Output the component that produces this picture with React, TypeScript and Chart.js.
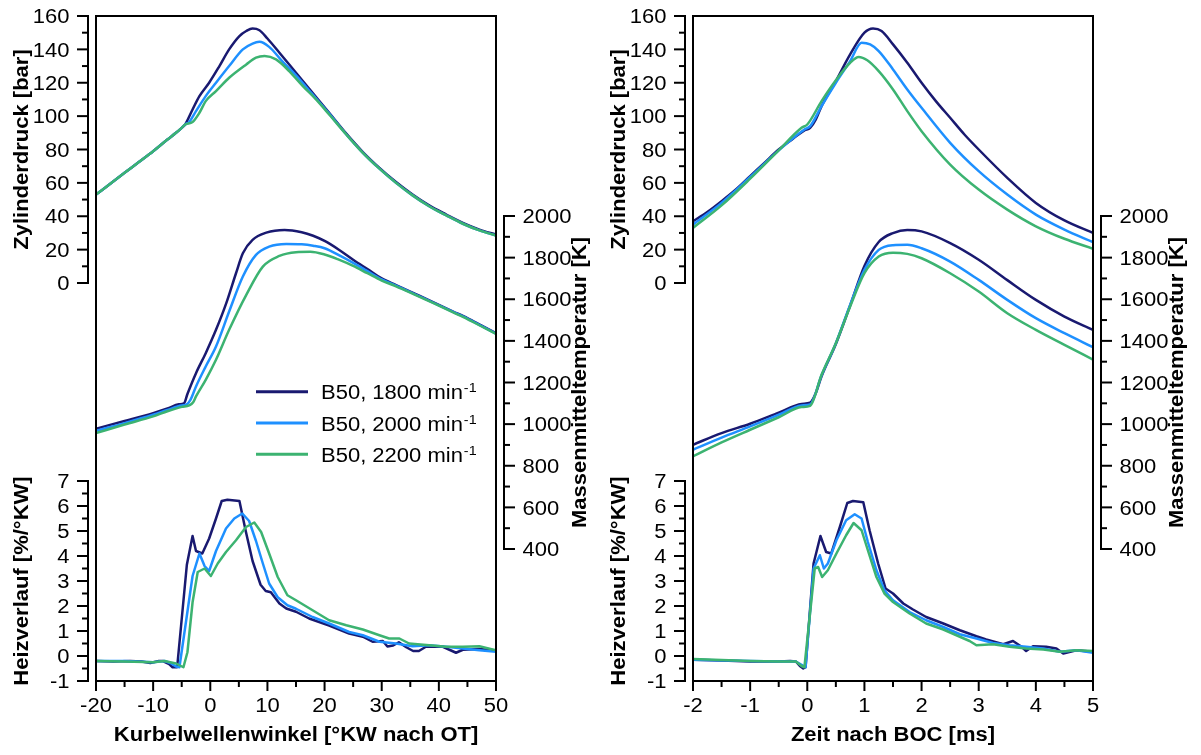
import React, { useEffect, useRef } from 'react';
import { Chart, registerables } from 'chart.js';

Chart.register(...registerables);

type Pt = [number, number];

// ---------- legend / series ----------
const SPEED_LABELS = ['B50, 1800 min', 'B50, 2000 min', 'B50, 2200 min'];
const SPEED_SUPERSCRIPT = '-1';
const SPEED_COLORS = ['#191970', '#1e90ff', '#3cb371'];

// ---------- tick labels ----------
const crankAngleTicks = [-20, -10, 0, 10, 20, 30, 40, 50];
const timeTicks = [-2, -1, 0, 1, 2, 3, 4, 5];
const pressureTicks = [0, 20, 40, 60, 80, 100, 120, 140, 160];
const temperatureTicks = [400, 600, 800, 1000, 1200, 1400, 1600, 1800, 2000];
const heatTicks = [-1, 0, 1, 2, 3, 4, 5, 6, 7];

// ---------- left panel: crank angle [°KW nach OT] ----------
const pressureAngle1800: Pt[] = [
  [-20, 53], [-17.5, 59.5], [-15, 66], [-12.5, 72.5], [-10, 79], [-7.5, 86], [-6, 90], [-5, 93], [-4.4, 95],
  [-3.1, 104], [-1.9, 112], [-0.2, 120], [1.6, 130], [3.3, 140], [5.1, 148], [6.3, 151], [7.4, 152.5],
  [8.6, 151.5], [10, 146.5], [12.1, 138], [15, 126], [17.9, 114], [20.8, 102], [23.8, 89.5], [26.7, 78.5],
  [29.6, 69], [32.5, 60.5], [35.4, 53], [38.3, 46.5], [41.3, 41], [44.2, 36], [47.1, 32], [50, 29],
];
const pressureAngle2000: Pt[] = [
  [-20, 53], [-17.5, 59.5], [-15, 66], [-12.5, 72.5], [-10, 79], [-7.5, 86], [-6, 90], [-5, 93], [-4.4, 95],
  [-3.7, 96.5], [-2.5, 103], [-0.8, 112], [1, 120], [3.3, 130], [5.7, 140], [7.4, 143.5], [8.6, 144.5],
  [10.3, 141.5], [12.7, 132.5], [15, 124.5], [17.9, 113], [20.8, 101.5], [23.8, 89], [26.7, 78],
  [29.6, 68.5], [32.5, 60], [35.4, 52.5], [38.3, 46], [41.3, 40.5], [44.2, 35.5], [47.1, 31.5], [50, 28.5],
];
const pressureAngle2200: Pt[] = [
  [-20, 53], [-17.5, 59.5], [-15, 66], [-12.5, 72.5], [-10, 79], [-7.5, 86], [-6, 90], [-5, 93], [-4.4, 95],
  [-3.1, 96.5], [-1.9, 102], [-0.8, 109], [1, 115], [3.3, 123], [6.3, 131], [8, 135], [9.5, 136],
  [11.5, 134], [13.8, 127], [16.2, 118], [18.5, 110], [20.8, 101], [23.8, 89], [26.7, 78],
  [29.6, 68.5], [32.5, 60], [35.4, 52.5], [38.3, 46], [41.3, 40.5], [44.2, 35.5], [47.1, 31.5], [50, 28.5],
];

const temperatureAngle1800: Pt[] = [
  [-20, 978], [-15, 1015], [-10, 1053], [-7.5, 1075], [-5.5, 1095], [-4.6, 1100], [-4, 1145], [-2.5, 1245],
  [-0.8, 1341], [1, 1453], [2.8, 1581], [4.5, 1725], [5.7, 1821], [7.4, 1885], [9.8, 1920], [13, 1933],
  [16, 1922], [18, 1905], [20, 1880], [22.5, 1838], [25, 1790], [27.5, 1745], [30, 1700], [32.5, 1668],
  [35, 1637], [37.5, 1605], [40, 1573], [42.5, 1541], [45, 1509], [47.5, 1473], [50, 1437],
];
const temperatureAngle2000: Pt[] = [
  [-20, 968], [-15, 1005], [-10, 1045], [-7.5, 1068], [-5, 1090], [-4.2, 1093], [-3.5, 1115], [-2.5, 1181],
  [-0.8, 1277], [1, 1373], [3.3, 1541], [5.7, 1709], [8, 1813], [10.3, 1853], [13.3, 1866], [16, 1864],
  [18, 1857], [20, 1845], [22.5, 1812], [25, 1775], [27.5, 1735], [30, 1695], [32.5, 1665], [35, 1634],
  [37.5, 1603], [40, 1571], [42.5, 1539], [45, 1507], [47.5, 1471], [50, 1435],
];
const temperatureAngle2200: Pt[] = [
  [-20, 957], [-15, 998], [-10, 1037], [-7.5, 1062], [-5, 1083], [-3.7, 1090], [-3, 1105], [-2.5, 1133],
  [-0.8, 1213], [1, 1309], [3.3, 1453], [6.3, 1621], [9.2, 1757], [12.1, 1808], [15, 1826], [17.5, 1828],
  [20, 1815], [22.5, 1790], [25, 1760], [27.5, 1725], [30, 1690], [32.5, 1662], [35, 1632], [37.5, 1601],
  [40, 1569], [42.5, 1537], [45, 1505], [47.5, 1469], [50, 1433],
];

const heatAngle1800: Pt[] = [
  [-20, -0.2], [-17, -0.22], [-14, -0.2], [-12, -0.22], [-10.5, -0.28], [-9, -0.2], [-8.3, -0.2], [-7.2, -0.32],
  [-6.6, -0.45], [-5.8, -0.45], [-4.1, 3.65], [-3.1, 4.8], [-2.5, 4.2], [-1.4, 4.1], [-0.2, 4.7], [1, 5.5],
  [2, 6.2], [3, 6.25], [5.1, 6.2], [6.2, 5.0], [7.4, 3.8], [8.8, 2.85], [9.7, 2.6], [10.6, 2.55], [12.1, 2.1],
  [13.3, 1.9], [15, 1.77], [17.3, 1.5], [20.8, 1.22], [24.3, 0.9], [26.7, 0.77], [28.4, 0.57], [30.2, 0.6],
  [31, 0.38], [32, 0.42], [33, 0.55], [34.3, 0.35], [35.5, 0.2], [36.5, 0.2], [37.8, 0.38], [40.7, 0.37],
  [43, 0.13], [44.2, 0.25], [47.1, 0.28], [50, 0.22],
];
const heatAngle2000: Pt[] = [
  [-20, -0.2], [-15, -0.2], [-10, -0.25], [-8, -0.2], [-7, -0.28], [-6, -0.42], [-5.4, -0.45], [-3.1, 3.2],
  [-1.9, 4.1], [-1, 3.6], [-0.2, 3.4], [1, 4.2], [2.75, 5.1], [4.2, 5.5], [5.6, 5.7], [6.8, 5.4], [8, 4.6],
  [9.2, 3.7], [10.3, 2.9], [11.8, 2.35], [13.5, 2.03], [15, 1.89], [17.9, 1.56], [20.8, 1.3], [24.3, 0.96],
  [26.7, 0.83], [29.6, 0.57], [32.5, 0.5], [35.4, 0.39], [38.3, 0.43], [41.3, 0.37], [44.2, 0.3], [47.1, 0.23],
  [50, 0.17],
];
const heatAngle2200: Pt[] = [
  [-20, -0.2], [-15, -0.22], [-10, -0.25], [-8, -0.2], [-6, -0.3], [-4.7, -0.45], [-4, 0.15], [-3.1, 2.15],
  [-2.2, 3.36], [-1, 3.5], [0.1, 3.2], [1.3, 3.7], [2.75, 4.16], [4.5, 4.63], [6.25, 5.16], [7.7, 5.34],
  [8.9, 4.96], [10.3, 4.1], [11.8, 3.16], [13.5, 2.43], [15, 2.23], [17.9, 1.83], [20.8, 1.43], [23.8, 1.23],
  [26.7, 1.06], [29.6, 0.83], [31.3, 0.7], [33.1, 0.7], [34.8, 0.5], [38.3, 0.43], [41.3, 0.37], [44.2, 0.37],
  [47.1, 0.39], [50, 0.23],
];

// ---------- right panel: time after BOC [ms] ----------
const pressureTime1800: Pt[] = [
  [-2, 37], [-1.75, 42.5], [-1.5, 49], [-1.25, 56], [-1, 64], [-0.75, 72], [-0.5, 80], [-0.25, 86.5],
  [-0.05, 91.5], [0.05, 93], [0.15, 98], [0.25, 106], [0.5, 121], [0.75, 137], [1, 150], [1.15, 152.5],
  [1.3, 151], [1.5, 143], [1.75, 132], [2, 120], [2.25, 109], [2.5, 99], [2.75, 89], [3, 80], [3.5, 63],
  [4, 48], [4.5, 37.5], [5, 30],
];
const pressureTime2000: Pt[] = [
  [-2, 35], [-1.5, 48], [-1, 63.5], [-0.5, 79.5], [-0.05, 92], [0.05, 94], [0.25, 106], [0.5, 120],
  [0.75, 133], [0.95, 144], [1.1, 143], [1.25, 139], [1.5, 128], [1.75, 116], [2, 105], [2.5, 84], [3, 67],
  [3.5, 53], [4, 41], [4.5, 32], [5, 24.5],
];
const pressureTime2200: Pt[] = [
  [-2, 33], [-1.5, 46.5], [-1, 62.5], [-0.5, 79.5], [-0.1, 93], [0, 95], [0.25, 109], [0.5, 121.5],
  [0.75, 132], [0.9, 135.5], [1.05, 133.5], [1.25, 127], [1.5, 116], [1.75, 103], [2, 91], [2.5, 71],
  [3, 56], [3.5, 44], [4, 34], [4.5, 26.5], [5, 20.5],
];

const temperatureTime1800: Pt[] = [
  [-2, 901], [-1.5, 957], [-1, 1002], [-0.5, 1055], [-0.1, 1097], [0.05, 1103], [0.15, 1150], [0.25, 1230],
  [0.5, 1385], [0.75, 1570], [1, 1760], [1.25, 1875], [1.5, 1918], [1.75, 1933], [2, 1926], [2.5, 1870],
  [3, 1790], [3.5, 1692], [4, 1597], [4.5, 1517], [5, 1453],
];
const temperatureTime2000: Pt[] = [
  [-2, 877], [-1.5, 935], [-1, 989], [-0.5, 1045], [-0.1, 1090], [0.05, 1095], [0.25, 1235], [0.5, 1389],
  [0.75, 1573], [1, 1741], [1.25, 1837], [1.5, 1860], [1.75, 1862], [2, 1845], [2.5, 1781], [3, 1693],
  [3.5, 1597], [4, 1509], [4.5, 1437], [5, 1370],
];
const temperatureTime2200: Pt[] = [
  [-2, 845], [-1.5, 912], [-1, 973], [-0.5, 1033], [-0.1, 1082], [0.05, 1088], [0.25, 1237], [0.5, 1389],
  [0.75, 1565], [1, 1725], [1.25, 1805], [1.5, 1824], [1.75, 1818], [2, 1797], [2.5, 1725], [3, 1637],
  [3.5, 1533], [4, 1453], [4.5, 1381], [5, 1310],
];

const heatTime1800: Pt[] = [
  [-2, -0.15], [-1.5, -0.18], [-1, -0.22], [-0.75, -0.22], [-0.5, -0.22], [-0.3, -0.2], [-0.2, -0.22],
  [-0.13, -0.4], [-0.07, -0.5], [-0.03, -0.45], [0.11, 3.7], [0.23, 4.8], [0.33, 4.16], [0.42, 4.1],
  [0.57, 5.16], [0.7, 6.12], [0.8, 6.2], [0.98, 6.15], [1.09, 5.03], [1.24, 3.7], [1.37, 2.7], [1.5, 2.5],
  [1.68, 2.1], [1.85, 1.86], [2.08, 1.56], [2.38, 1.3], [2.67, 1.03], [2.96, 0.79], [3.13, 0.66],
  [3.43, 0.47], [3.6, 0.6], [3.75, 0.37], [3.83, 0.2], [3.95, 0.39], [4.18, 0.37], [4.36, 0.3], [4.48, 0.1],
  [4.71, 0.23], [5, 0.17],
];
const heatTime2000: Pt[] = [
  [-2, -0.15], [-1, -0.2], [-0.5, -0.22], [-0.2, -0.22], [-0.1, -0.35], [-0.03, -0.45], [0.11, 3.5],
  [0.22, 4.03], [0.29, 3.5], [0.36, 3.7], [0.51, 4.63], [0.68, 5.43], [0.83, 5.67], [0.95, 5.5],
  [1.06, 4.56], [1.21, 3.43], [1.35, 2.63], [1.5, 2.23], [1.79, 1.76], [2.08, 1.43], [2.38, 1.16],
  [2.67, 0.87], [2.96, 0.7], [3.25, 0.52], [3.54, 0.43], [3.83, 0.37], [4.13, 0.3], [4.42, 0.17],
  [4.71, 0.23], [5, 0.13],
];
const heatTime2200: Pt[] = [
  [-2, -0.12], [-1, -0.2], [-0.5, -0.22], [-0.2, -0.22], [-0.1, -0.4], [-0.05, -0.45], [0.13, 3.5],
  [0.19, 3.56], [0.26, 3.16], [0.36, 3.43], [0.51, 4.1], [0.68, 4.83], [0.81, 5.32], [0.95, 5.03],
  [1.06, 4.23], [1.21, 3.16], [1.35, 2.5], [1.5, 2.16], [1.79, 1.7], [2.08, 1.3], [2.38, 1.06], [2.67, 0.77],
  [2.84, 0.6], [2.96, 0.43], [3.25, 0.47], [3.54, 0.37], [3.83, 0.3], [4.13, 0.26], [4.42, 0.17],
  [4.71, 0.23], [5, 0.2],
];

// ---------- layout ----------
const PAGE_W = 1201;
const PAGE_H = 755;
const PAD_TOP = 16;
const PAD_BOTTOM = 74;
const PLOT_H = PAGE_H - PAD_TOP - PAD_BOTTOM; // 665
// vertical bands (fractions of plot height, from the top) occupied by each y axis
const BAND_PRESSURE: [number, number] = [0, 267 / PLOT_H];
const BAND_TEMPERATURE: [number, number] = [200 / PLOT_H, 533 / PLOT_H];
const BAND_HEAT: [number, number] = [465 / PLOT_H, 1];

const FONT = '"Liberation Sans", Arial, Helvetica, sans-serif';
const STRETCH = 1.1;

function bandRange(ticks: number[], band: [number, number]) {
  const lo = ticks[0];
  const hi = ticks[ticks.length - 1];
  const k = (hi - lo) / (band[1] - band[0]);
  return { min: lo - (1 - band[1]) * k, max: hi + band[0] * k };
}

function drawText(
  ctx: CanvasRenderingContext2D, text: string, x: number, y: number,
  align: CanvasTextAlign, font: string, rotate = false,
) {
  ctx.save();
  ctx.translate(x, y);
  if (rotate) ctx.rotate(-Math.PI / 2);
  ctx.scale(STRETCH, 1);
  ctx.font = font;
  ctx.textAlign = align;
  ctx.textBaseline = 'alphabetic';
  ctx.fillText(text, 0, 0);
  ctx.restore();
}

function line(ctx: CanvasRenderingContext2D, x1: number, y1: number, x2: number, y2: number) {
  ctx.beginPath();
  ctx.moveTo(x1, y1);
  ctx.lineTo(x2, y2);
  ctx.stroke();
}

function drawVAxis(
  ctx: CanvasRenderingContext2D, scale: any, ticks: number[], x: number, side: number,
  title: string, titleOffset: number,
) {
  const yTop = scale.getPixelForValue(ticks[ticks.length - 1]);
  const yBot = scale.getPixelForValue(ticks[0]);
  line(ctx, x, yTop - 1, x, yBot + 1);
  ticks.forEach((v, i) => {
    const y = scale.getPixelForValue(v);
    line(ctx, x, y, x + side * 11, y);
    drawText(ctx, String(v), x + side * 18.5, y + 7.2, side < 0 ? 'right' : 'left', `20px ${FONT}`);
    if (i < ticks.length - 1) {
      const ym = scale.getPixelForValue((v + ticks[i + 1]) / 2);
      line(ctx, x, ym, x + side * 6, ym);
    }
  });
  drawText(ctx, title, x + side * titleOffset, (yTop + yBot) / 2, 'center', `bold 20px ${FONT}`, true);
}

interface PanelSpec {
  xTicks: number[];
  xTitle: string;
  pressure: Pt[][];
  temperature: Pt[][];
  heat: Pt[][];
  legend: boolean;
}

const leftSpec: PanelSpec = {
  xTicks: crankAngleTicks,
  xTitle: 'Kurbelwellenwinkel [°KW nach OT]',
  pressure: [pressureAngle1800, pressureAngle2000, pressureAngle2200],
  temperature: [temperatureAngle1800, temperatureAngle2000, temperatureAngle2200],
  heat: [heatAngle1800, heatAngle2000, heatAngle2200],
  legend: true,
};

const rightSpec: PanelSpec = {
  xTicks: timeTicks,
  xTitle: 'Zeit nach BOC [ms]',
  pressure: [pressureTime1800, pressureTime2000, pressureTime2200],
  temperature: [temperatureTime1800, temperatureTime2000, temperatureTime2200],
  heat: [heatTime1800, heatTime2000, heatTime2200],
  legend: false,
};

function Panel({ spec, left, width, padLeft, padRight }: {
  spec: PanelSpec; left: number; width: number; padLeft: number; padRight: number;
}) {
  const ref = useRef<HTMLCanvasElement>(null);

  useEffect(() => {
    const canvas = ref.current;
    if (!canvas) return;

    const datasets: any[] = [];
    const groups: [string, Pt[][], boolean][] = [
      ['yH', spec.heat, false],
      ['yT', spec.temperature, true],
      ['yP', spec.pressure, true],
    ];
    groups.forEach(([axisId, series, smooth]) => {
      series.forEach((pts, i) => {
        datasets.push({
          label: SPEED_LABELS[i],
          data: pts.map(([x, y]) => ({ x, y })),
          xAxisID: 'x',
          yAxisID: axisId,
          borderColor: SPEED_COLORS[i],
          backgroundColor: SPEED_COLORS[i],
          borderWidth: 2.5,
          pointRadius: 0,
          fill: false,
          tension: 0,
          cubicInterpolationMode: smooth ? 'monotone' : 'default',
          borderJoinStyle: 'round',
          order: 2 - i,
        });
      });
    });

    const pR = bandRange(pressureTicks, BAND_PRESSURE);
    const tR = bandRange(temperatureTicks, BAND_TEMPERATURE);
    const hR = bandRange(heatTicks, BAND_HEAT);

    const axesPlugin = {
      id: 'engineAxes',
      afterDraw(chart: any) {
        const ctx: CanvasRenderingContext2D = chart.ctx;
        const a = chart.chartArea;
        const sx = chart.scales.x;
        ctx.save();
        ctx.strokeStyle = '#000';
        ctx.fillStyle = '#000';
        ctx.lineWidth = 2;
        ctx.lineCap = 'butt';
        ctx.strokeRect(a.left, a.top, a.right - a.left, a.bottom - a.top);

        // x axis
        const xt = spec.xTicks;
        xt.forEach((v, i) => {
          const px = sx.getPixelForValue(v);
          line(ctx, px, a.bottom, px, a.bottom + 10);
          drawText(ctx, String(v), px, a.bottom + 31.3, 'center', `20px ${FONT}`);
          if (i < xt.length - 1) {
            const pm = sx.getPixelForValue((v + xt[i + 1]) / 2);
            line(ctx, pm, a.bottom, pm, a.bottom + 6);
          }
        });
        drawText(ctx, spec.xTitle, (a.left + a.right) / 2, a.bottom + 60.3, 'center', `bold 20px ${FONT}`);

        // y axes
        drawVAxis(ctx, chart.scales.yP, pressureTicks, a.left - 8, -1, 'Zylinderdruck [bar]', 60.5);
        drawVAxis(ctx, chart.scales.yH, heatTicks, a.left - 8, -1, 'Heizverlauf [%/°KW]', 60.5);
        drawVAxis(ctx, chart.scales.yT, temperatureTicks, a.right + 8, 1, 'Massenmitteltemperatur [K]', 81.5);

        // legend
        if (spec.legend) {
          SPEED_LABELS.forEach((lab, i) => {
            const rowY = a.top + 375.7 + i * 31.3;
            ctx.strokeStyle = SPEED_COLORS[i];
            ctx.lineWidth = 3;
            line(ctx, a.left + 160, rowY, a.left + 212, rowY);
            const tx = a.left + 225;
            drawText(ctx, lab, tx, rowY + 7.5, 'left', `20px ${FONT}`);
            ctx.font = `20px ${FONT}`;
            const w = ctx.measureText(lab).width * STRETCH;
            drawText(ctx, SPEED_SUPERSCRIPT, tx + w + 1, rowY + 0.5, 'left', `13px ${FONT}`);
          });
        }
        ctx.restore();
      },
    };

    const chart = new Chart(canvas, {
      type: 'line',
      data: { datasets },
      options: {
        responsive: false,
        animation: false,
        events: [],
        layout: { padding: { left: padLeft, right: padRight, top: PAD_TOP, bottom: PAD_BOTTOM } },
        plugins: { legend: { display: false }, tooltip: { enabled: false }, title: { display: false } },
        scales: {
          x: {
            type: 'linear', display: false,
            min: spec.xTicks[0], max: spec.xTicks[spec.xTicks.length - 1],
          },
          yP: { type: 'linear', display: false, min: pR.min, max: pR.max },
          yT: { type: 'linear', display: false, min: tR.min, max: tR.max },
          yH: { type: 'linear', display: false, min: hR.min, max: hR.max },
        },
      } as any,
      plugins: [axesPlugin],
    });

    return () => chart.destroy();
  }, [spec, padLeft, padRight]);

  return (
    <canvas
      ref={ref}
      width={width}
      height={PAGE_H}
      style={{ position: 'absolute', left, top: 0, width, height: PAGE_H }}
    />
  );
}

export default function App() {
  return (
    <div
      style={{
        position: 'absolute', left: 0, top: 0, width: PAGE_W, height: PAGE_H,
        background: '#ffffff', overflow: 'hidden',
      }}
    >
      <Panel spec={leftSpec} left={0} width={600} padLeft={96} padRight={104} />
      <Panel spec={rightSpec} left={600} width={601} padLeft={93} padRight={108} />
    </div>
  );
}
